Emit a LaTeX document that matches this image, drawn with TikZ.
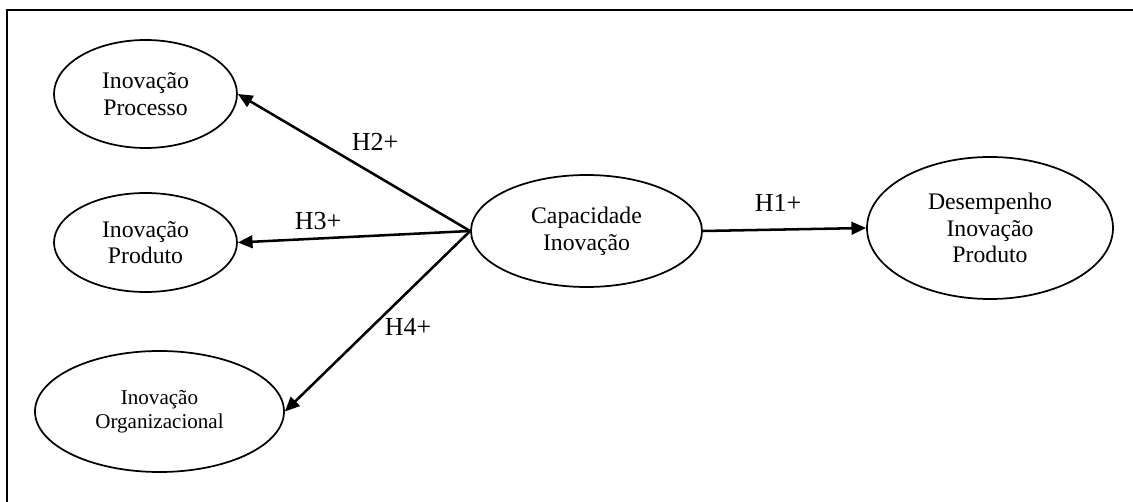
\documentclass[tikz,border=0pt]{standalone}
\usepackage{fontspec}
\setmainfont{Liberation Serif}
\usetikzlibrary{shapes.geometric,arrows.meta}
\begin{document}
\begin{tikzpicture}[x=0.75pt,y=-0.75pt,
  var/.style={draw,ellipse,line width=1.3pt,inner sep=0pt,align=center,
    font=\fontsize{17.8}{20}\selectfont},
  hyp/.style={line width=1.9pt,-{Triangle[length=11pt,width=9.5pt]}},
  hlab/.style={font=\fontsize{19.5}{22}\selectfont,inner sep=0pt}]
\useasboundingbox (0,0) rectangle (1133,502);
\draw[line width=1.4pt] (7,502) -- (7,10) -- (1133,10);
\node[var,minimum width=137.25pt,minimum height=81pt] (proc) at (145.5,94) {Inovação\\Processo};
\node[var,minimum width=137.25pt,minimum height=74.25pt] (prod) at (145.5,242.5) {Inovação\\Produto};
\node[var,minimum width=186.75pt,minimum height=90.75pt,font=\fontsize{15.8}{18}\selectfont] (org) at (159.5,411.5) {Inovação\\Organizacional};
\node[var,minimum width=173.25pt,minimum height=84pt] (cap) at (586.5,231) {Capacidade\\Inovação};
\node[var,minimum width=184.5pt,minimum height=106.5pt] (des) at (990,228) {Desempenho\\Inovação\\Produto};
\draw[hyp] (cap.west) -- (proc.east);
\draw[hyp] (cap.west) -- (prod.east);
\draw[hyp] (cap.west) -- (org.east);
\draw[hyp] (cap.east) -- (des.west);
\node[hlab] (h1) at (778,203) {H1+};
\node[hlab] (h2) at (375,142) {H2+};
\node[hlab] (h3) at (318,221) {H3+};
\node[hlab] (h4) at (408,327) {H4+};
\end{tikzpicture}
\end{document}
